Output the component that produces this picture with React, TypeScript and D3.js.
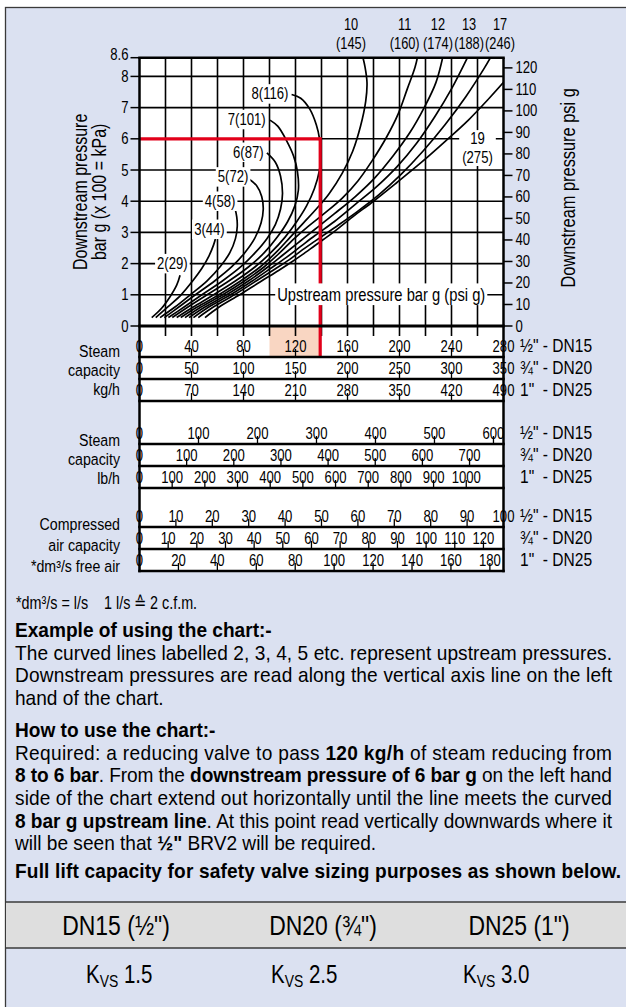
import { useEffect, useRef } from 'react';
import * as d3 from 'd3';

type Pt = [number, number];

// Upstream pressure curves: [kg/h on the 1/2" scale, downstream bar g]
const upstream2: Pt[] = [[9.4, 0.27], [17, 0.57], [23.5, 0.94], [28.6, 1.31], [31.2, 1.63]];
const upstream3: Pt[] = [[12.5, 0.27], [22, 0.62], [32, 1.0], [41, 1.45], [48, 1.85], [53.5, 2.25], [57, 2.6], [58.8, 2.85]];
const upstream4: Pt[] = [[15.8, 0.27], [27, 0.6], [39, 1.0], [52, 1.45], [62, 1.9], [69.5, 2.35], [73.8, 2.8], [75.2, 3.2], [74.8, 3.5], [73.5, 3.77]];
const upstream5: Pt[] = [[19.1, 0.27], [30, 0.6], [43, 1.0], [58, 1.45], [71, 1.9], [81, 2.35], [88.5, 2.8], [93.5, 3.3], [95.2, 3.75], [94, 4.15], [90, 4.5], [83.7, 4.73]];
const upstream6: Pt[] = [[22.2, 0.27], [34, 0.6], [48, 1.0], [64, 1.45], [78, 1.9], [89, 2.35], [98, 2.8], [104.5, 3.25], [108.5, 3.75], [110, 4.25], [108.5, 4.8], [104.5, 5.25], [98, 5.55]];
const upstream7: Pt[] = [[25.2, 0.27], [37, 0.6], [52, 1.0], [69, 1.45], [84, 1.9], [96, 2.35], [106, 2.85], [114, 3.35], [119.5, 3.85], [122.2, 4.35], [121.5, 4.95], [118.5, 5.45], [113, 5.95], [106.5, 6.4], [100.4, 6.6]];
const upstream8: Pt[] = [[28.6, 0.27], [41, 0.6], [57, 1.0], [74, 1.45], [89, 1.9], [101, 2.35], [112, 2.85], [121, 3.35], [128.5, 3.85], [134.5, 4.4], [138.5, 5.0], [139.5, 5.5], [138.5, 6.0], [136, 6.45], [131, 6.95], [124, 7.3], [117, 7.42]];
const upstream10: Pt[] = [[31.7, 0.27], [44, 0.6], [61, 1.0], [78, 1.45], [93, 1.9], [106, 2.4], [116, 2.85], [126, 3.3], [136, 3.75], [146, 4.25], [156, 4.9], [164, 5.6], [170, 6.4], [174, 7.2], [175, 7.8], [173.5, 8.3], [171, 8.75]];
const upstream11: Pt[] = [[35, 0.27], [47, 0.6], [64, 1.0], [81, 1.45], [96, 1.9], [108, 2.35], [119, 2.8], [130, 3.2], [142, 3.6], [156, 4.1], [168, 4.65], [179, 5.3], [190, 6.05], [199, 6.8], [206, 7.6], [212, 8.3], [214.5, 8.75]];
const upstream12: Pt[] = [[38.1, 0.27], [50, 0.6], [67, 1.0], [84, 1.45], [99, 1.9], [111, 2.3], [123, 2.7], [135, 3.1], [150, 3.6], [166, 4.15], [181, 4.75], [195, 5.45], [208, 6.2], [219, 7.0], [228, 7.8], [234, 8.75]];
const upstream13: Pt[] = [[41.5, 0.27], [53, 0.6], [70, 1.0], [87, 1.45], [101, 1.85], [113, 2.2], [124, 2.55], [135, 2.9], [150, 3.35], [166, 3.9], [182, 4.45], [198, 5.1], [213, 5.85], [227, 6.7], [240, 7.6], [254, 8.75]];
const upstream17: Pt[] = [[45.2, 0.27], [56.5, 0.6], [73, 1.0], [90, 1.45], [104, 1.82], [115, 2.12], [124, 2.4], [135, 2.72], [150, 3.15], [167, 3.65], [184, 4.2], [201, 4.85], [218, 5.6], [235, 6.45], [251, 7.35], [265, 8.25], [272, 8.75]];
const upstream19: Pt[] = [[50.4, 0.27], [61, 0.6], [77, 1.0], [93, 1.42], [107, 1.78], [117, 2.05], [125, 2.28], [135, 2.58], [149, 3.0], [164, 3.5], [180, 4.0], [198, 4.6], [217, 5.25], [236, 5.95], [253, 6.6], [269, 7.3], [283, 7.95]];

const curves: Pt[][] = [upstream2, upstream3, upstream4, upstream5, upstream6, upstream7, upstream8,
  upstream10, upstream11, upstream12, upstream13, upstream17, upstream19];

// labels at the curve ends, anchored in chart units
const curveLabels = [
  { text: '2(29)', kgh: 25.3, bar: 2.0 },
  { text: '3(44)', kgh: 53.8, bar: 3.1 },
  { text: '4(58)', kgh: 62, bar: 4.0 },
  { text: '5(72)', kgh: 72, bar: 4.78 },
  { text: '6(87)', kgh: 83.7, bar: 5.57 },
  { text: '7(101)', kgh: 82.5, bar: 6.62 },
  { text: '8(116)', kgh: 100.4, bar: 7.44 },
];
const topLabels = [
  { bar: '10', psi: '(145)', kgh: 162.7 },
  { bar: '11', psi: '(160)', kgh: 204 },
  { bar: '12', psi: '(174)', kgh: 229.6 },
  { bar: '13', psi: '(188)', kgh: 253.5 },
  { bar: '17', psi: '(246)', kgh: 277.3 },
];
const label19 = { bar: '19', psi: '(275)', kgh: 260, barTop: 6.0, barBottom: 5.41 };

const barTicks = [0, 1, 2, 3, 4, 5, 6, 7, 8, 8.6];
const barGrid = [1, 2, 3, 4, 5, 6, 7, 8];
const psiTicks = [0, 10, 20, 30, 40, 50, 60, 70, 80, 90, 100, 110, 120];
const kghGrid = [20, 40, 60, 80, 100, 120, 140, 160, 180, 200, 220, 240, 260];

// worked example
const exampleBar = 6;
const exampleKgh = 139;
const highlightKgh = [100, 139];

// capacity scales
const kghDN15 = [0, 40, 80, 120, 160, 200, 240, 280];
const kghDN20 = [0, 50, 100, 150, 200, 250, 300, 350];
const kghDN25 = [0, 70, 140, 210, 280, 350, 420, 490];
const kghMax = [280, 350, 490];
const lbhDN15 = [0, 100, 200, 300, 400, 500, 600];
const lbhDN20 = [0, 100, 200, 300, 400, 500, 600, 700];
const lbhDN25 = [0, 100, 200, 300, 400, 500, 600, 700, 800, 900, 1000];
const lbhMax = [617, 772, 1114];
const airDN15 = [0, 10, 20, 30, 40, 50, 60, 70, 80, 90, 100];
const airDN20 = [0, 10, 20, 30, 40, 50, 60, 70, 80, 90, 100, 110, 120];
const airDN25 = [0, 20, 40, 60, 80, 100, 120, 140, 160, 180];
const airMax = [100, 127, 187];
const sizes = ['½" - DN15', '¾" - DN20', '1"  - DN25'];

const blockNames = [
  ['Steam', 'capacity', 'kg/h'],
  ['Steam', 'capacity', 'lb/h'],
  ['Compressed', 'air capacity', '*dm³/s free air'],
];

const tableHead = ['DN15 (½")', 'DN20 (¾")', 'DN25 (1")'];
const kvsValues = ['1.5', '2.5', '3.0'];

const FONT = '"Liberation Sans", Arial, Helvetica, sans-serif';
const RED = '#e2001a';
const SX = 0.82; // horizontal squeeze, gives the narrow Helvetica look

type G = d3.Selection<SVGGElement, unknown, null, undefined>;

export default function App() {
  const ref = useRef<SVGSVGElement | null>(null);

  useEffect(() => {
    if (!ref.current) return;
    const svg = d3.select(ref.current);
    svg.selectAll('*').remove();
    svg.attr('font-family', FONT);
    const root = svg.append('g') as unknown as G;

    // narrow text helper
    const nt = (g: G, x: number, y: number, s: string, size: number, anchor = 'start', weight = 'normal', rot = 0, sx = SX) => {
      const gg = g.append('g').attr('transform', `translate(${x},${y})${rot ? ` rotate(${rot})` : ''} scale(${sx},1)`);
      gg.append('text').attr('font-size', size).attr('text-anchor', anchor).attr('font-weight', weight)
        .style('white-space', 'pre').text(s);
      return gg;
    };

    const X0 = 139.5, X1 = 503.5, Y0 = 326, Y1 = 57.7;
    const x = d3.scaleLinear().domain([0, 280]).range([X0, X1]);
    const y = d3.scaleLinear().domain([0, 8.6]).range([Y0, Y1]);
    const yPsi = d3.scaleLinear().domain([0, 8.6 * 14.5038]).range([Y0, Y1]);

    // panel
    root.append('rect').attr('x', 0).attr('y', 0).attr('width', 626).attr('height', 1007).attr('fill', '#fff');
    root.append('rect').attr('x', 5.5).attr('y', 7.5).attr('width', 640).attr('height', 1010)
      .attr('fill', '#dbe1f1').attr('stroke', '#3a3a3a').attr('stroke-width', 1.3);

    const kgBase = [357, 379, 401];
    const lbBase = [444, 466, 488];
    const airBase = [527, 549, 571];
    const nameY = [[351, 370, 389], [440, 459, 478], [524, 545, 566]];

    // white column behind plot and strips
    root.append('rect').attr('x', X0).attr('y', Y1).attr('width', X1 - X0).attr('height', airBase[2] - Y1).attr('fill', '#fff');

    // highlight band
    root.append('rect').attr('x', x(highlightKgh[0])).attr('y', Y0)
      .attr('width', x(highlightKgh[1]) - x(highlightKgh[0])).attr('height', kgBase[0] - Y0)
      .attr('fill', '#f9d6c2');

    const plot = root.append('g') as unknown as G;

    // grid
    plot.selectAll('.vg').data(kghGrid).enter().append('line')
      .attr('x1', d => x(d)).attr('x2', d => x(d)).attr('y1', Y1).attr('y2', Y0 + 10)
      .attr('stroke', '#000').attr('stroke-width', 1.6);
    plot.selectAll('.hg').data(barGrid).enter().append('line')
      .attr('x1', X0).attr('x2', X1).attr('y1', d => y(d)).attr('y2', d => y(d))
      .attr('stroke', '#000').attr('stroke-width', 1.6);

    // left axis (bar g)
    barTicks.forEach(b => {
      plot.append('line').attr('x1', X0 - 9).attr('x2', X0).attr('y1', y(b)).attr('y2', y(b))
        .attr('stroke', '#000').attr('stroke-width', 1.5);
      nt(plot, X0 - 11, y(b) + (b === 8.6 ? 2.5 : 5.5), String(b), 16, 'end');
    });
    // right axis (psi g)
    psiTicks.forEach(p => {
      plot.append('line').attr('x1', X1).attr('x2', X1 + 9).attr('y1', yPsi(p)).attr('y2', yPsi(p))
        .attr('stroke', '#000').attr('stroke-width', 1.5);
      nt(plot, X1 + 12, yPsi(p) + 5.5, String(p), 16);
    });

    // axis titles
    const midY = (Y0 + Y1) / 2;
    nt(root, 87, midY, 'Downstream pressure', 19.5, 'middle', 'normal', -90);
    nt(root, 106, midY, 'bar g (x 100 = kPa)', 19.5, 'middle', 'normal', -90);
    nt(root, 575, midY - 4, 'Downstream pressure psi g', 20, 'middle', 'normal', -90);

    // curves
    root.append('clipPath').attr('id', 'plotclip').append('rect')
      .attr('x', X0).attr('y', Y1).attr('width', X1 - X0).attr('height', Y0 - Y1);
    const line = d3.line<Pt>().x(d => x(d[0])).y(d => y(d[1])).curve(d3.curveCatmullRom.alpha(0.5));
    plot.append('g').attr('clip-path', 'url(#plotclip)')
      .selectAll('path').data(curves).enter().append('path')
      .attr('d', d => line(d)).attr('fill', 'none').attr('stroke', '#000').attr('stroke-width', 1.7);

    // worked example lines
    plot.append('line').attr('x1', X0).attr('x2', x(exampleKgh)).attr('y1', y(exampleBar)).attr('y2', y(exampleBar))
      .attr('stroke', RED).attr('stroke-width', 3.2);
    plot.append('line').attr('x1', x(exampleKgh)).attr('x2', x(exampleKgh)).attr('y1', y(exampleBar) - 1.6).attr('y2', kgBase[0])
      .attr('stroke', RED).attr('stroke-width', 3.2);

    // labels sitting on white boxes
    const boxed = (g: G, cx: number, cy: number, lines: { t: string; dy: number }[], size: number, anchor = 'middle', padX = 2, padY = 1) => {
      const gg = g.append('g').attr('transform', `translate(${cx},${cy}) scale(${SX},1)`);
      const t = gg.append('text').attr('text-anchor', anchor).attr('font-size', size);
      lines.forEach(l => t.append('tspan').attr('x', 0).attr('y', l.dy).text(l.t));
      const bb = (t.node() as SVGTextElement).getBBox();
      gg.insert('rect', () => t.node() as SVGTextElement)
        .attr('x', bb.x - padX / SX).attr('y', bb.y - padY).attr('width', bb.width + 2 * padX / SX).attr('height', bb.height + padY * 2)
        .attr('fill', '#fff');
    };
    const labels = plot.append('g') as unknown as G;
    curveLabels.forEach(l => boxed(labels, x(l.kgh), y(l.bar), [{ t: l.text, dy: 5.5 }], 16));
    boxed(labels, x(label19.kgh), 0, [{ t: label19.bar, dy: y(label19.barTop) + 5.5 }, { t: label19.psi, dy: y(label19.barBottom) + 5.5 }], 16, 'middle', 3, 0);
    boxed(labels, x(exampleKgh) - 43, y(1), [{ t: 'Upstream pressure bar g (psi g)', dy: 6 }], 18, 'start', 2, 1);

    topLabels.forEach(l => {
      nt(root, x(l.kgh), 30, l.bar, 16, 'middle', 'normal', 0, 0.8);
      nt(root, x(l.kgh), 49, l.psi, 16, 'middle', 'normal', 0, 0.8);
    });

    // frame
    const frame = root.append('g').attr('stroke', '#000').attr('fill', 'none');
    frame.append('line').attr('x1', X0 - 1.25).attr('x2', X1 + 1.25).attr('y1', Y1).attr('y2', Y1).attr('stroke-width', 2.6);
    frame.append('line').attr('x1', X0 - 1.25).attr('x2', X1 + 1.25).attr('y1', Y0).attr('y2', Y0).attr('stroke-width', 2.8);
    frame.append('line').attr('x1', X0).attr('x2', X0).attr('y1', Y1).attr('y2', airBase[2] + 1.25).attr('stroke-width', 2.5);
    frame.append('line').attr('x1', X1).attr('x2', X1).attr('y1', Y1).attr('y2', airBase[2] + 1.25).attr('stroke-width', 2.5);

    // capacity strips
    const blocks = [
      { base: kgBase, maxes: kghMax, rows: [kghDN15, kghDN20, kghDN25] },
      { base: lbBase, maxes: lbhMax, rows: [lbhDN15, lbhDN20, lbhDN25] },
      { base: airBase, maxes: airMax, rows: [airDN15, airDN20, airDN25] },
    ];
    blocks.forEach((blk, bi) => {
      const g = root.append('g') as unknown as G;
      blk.rows.forEach((ticks, ri) => {
        const yb = blk.base[ri];
        const s = d3.scaleLinear().domain([0, blk.maxes[ri]]).range([X0, X1]);
        g.append('line').attr('x1', X0 - 1.25).attr('x2', X1 + 1.25).attr('y1', yb).attr('y2', yb)
          .attr('stroke', '#000').attr('stroke-width', 2.6);
        g.selectAll(null).data(ticks).enter().append('line')
          .attr('x1', d => s(d)).attr('x2', d => s(d)).attr('y1', yb).attr('y2', yb - 8)
          .attr('stroke', '#000').attr('stroke-width', 1.3);
        ticks.forEach(v => nt(g, s(v), yb - 5, String(v), 16, 'middle'));
        nt(g, 520, yb - 5, sizes[ri], 19);
        nt(g, 120, nameY[bi][ri] + 6, blockNames[bi][ri], 16.5, 'end', 'normal', 0, 0.86);
      });
    });

    // footnote
    nt(root, 16, 609, '*dm³/s = l/s    1 l/s ≙ 2 c.f.m.', 17.5);

    // explanatory text
    const PS = 0.955;
    const para = (yy: number, segs: [string, boolean][], size: number, width?: number) => {
      const gg = root.append('g').attr('transform', `translate(15,${yy}) scale(${PS},1)`);
      const t = gg.append('text').attr('font-size', size).style('white-space', 'pre');
      segs.forEach(([s, b]) => t.append('tspan').attr('font-weight', b ? 'bold' : 'normal').text(s));
      if (width) t.attr('textLength', width / PS).attr('lengthAdjust', 'spacing');
    };
    const fs = 20;
    para(637, [['Example of using the chart:-', true]], fs);
    para(659.6, [['The curved lines labelled 2, 3, 4, 5 etc. represent upstream pressures.', false]], fs, 597);
    para(682.3, [['Downstream pressures are read along the vertical axis line on the left', false]], fs, 597);
    para(705, [['hand of the chart.', false]], fs);
    para(737, [['How to use the chart:-', true]], fs);
    para(759.6, [['Required: a reducing valve to pass ', false], ['120 kg/h', true], [' of steam reducing from', false]], fs, 597);
    para(782.3, [['8 to 6 bar', true], ['. From the ', false], ['downstream pressure of 6 bar g', true], [' on the left hand', false]], fs, 597);
    para(805, [['side of the chart extend out horizontally until the line meets the curved', false]], fs, 597);
    para(827.7, [['8 bar g upstream line', true], ['. At this point read vertically downwards where it', false]], fs, 597);
    para(850.4, [['will be seen that ', false], ['½"', true], [' BRV2 will be required.', false]], fs);
    para(878, [['Full lift capacity for safety valve sizing purposes as shown below.', true]], fs, 606);

    // table
    const tTop = 902, tMid = 948;
    root.append('rect').attr('x', 6).attr('y', tTop).attr('width', 626).attr('height', tMid - tTop).attr('fill', '#dedede');
    root.append('line').attr('x1', 5).attr('x2', 626).attr('y1', tTop).attr('y2', tTop).attr('stroke', '#3a3a3a').attr('stroke-width', 1.5);
    root.append('line').attr('x1', 5).attr('x2', 626).attr('y1', tMid).attr('y2', tMid).attr('stroke', '#3a3a3a').attr('stroke-width', 1.5);
    const headX = [116, 323, 519];
    tableHead.forEach((h, i) => nt(root, headX[i], 935, h, 28, 'middle'));
    const kvsX = [86, 271, 463];
    kvsValues.forEach((v, i) => {
      const gg = root.append('g').attr('transform', `translate(${kvsX[i]},983) scale(${SX},1)`);
      const t = gg.append('text').attr('font-size', 25).style('white-space', 'pre');
      t.append('tspan').text('K');
      t.append('tspan').attr('font-size', 17).attr('dy', 4).text('VS');
      t.append('tspan').attr('dy', -4).text(' ' + v);
    });
  }, []);

  return (
    <div style={{ position: 'absolute', left: 0, top: 0 }}>
      <svg ref={ref} width={626} height={1007} style={{ display: 'block' }} />
    </div>
  );
}
